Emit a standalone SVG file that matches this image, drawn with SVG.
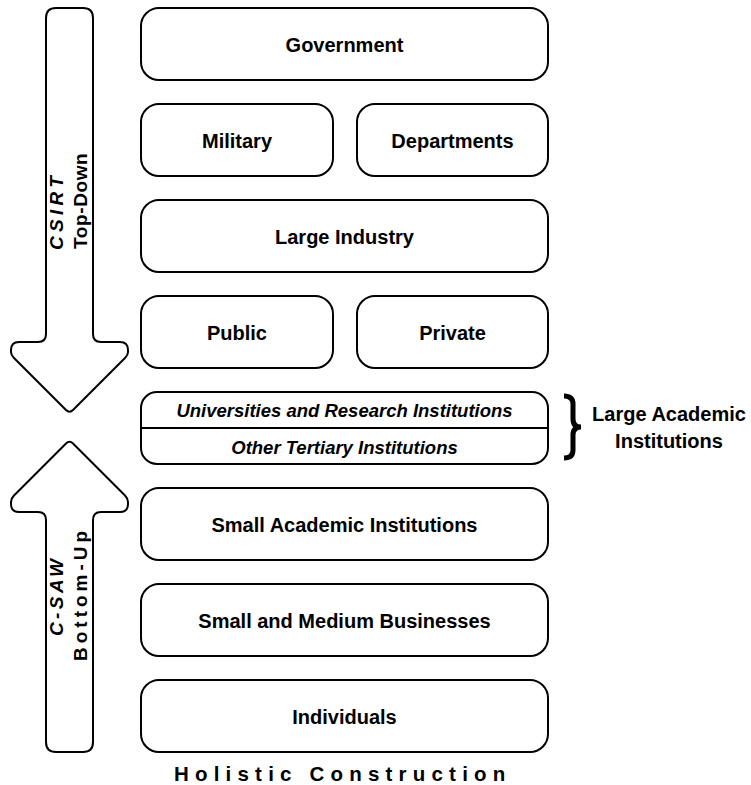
<svg xmlns="http://www.w3.org/2000/svg" width="751" height="785" viewBox="0 0 751 785">
<style>
.box{fill:#fff;stroke:#000;stroke-width:2}
.arrow{fill:#fff;stroke:#000;stroke-width:2;stroke-linejoin:round}
.lbl{font-family:"Liberation Sans",Arial,sans-serif;font-weight:bold;font-size:20px;fill:#000;text-anchor:middle}
.it{font-family:"Liberation Sans",Arial,sans-serif;font-weight:bold;font-style:italic;font-size:18.5px;fill:#000;text-anchor:middle}
.side{font-family:"Liberation Sans",Arial,sans-serif;font-weight:bold;font-size:19px;fill:#000}
.title{font-family:"Liberation Sans",Arial,sans-serif;font-weight:bold;font-size:20.5px;fill:#000}
</style>
<rect width="751" height="785" fill="#fff"/>
<g id="arrow-down">
<path class="arrow" d="M46 18 Q46 8 56 8 H83 Q93 8 93 18 V334 Q93 342 101 342 H120 Q128 342 128 350 V352 Q128 355 125 358 L73 410 Q69.5 413.5 66 410 L14 358 Q11 355 11 352 V350 Q11 342 19 342 H38 Q46 342 46 334 Z"/>
<text class="side" font-style="italic" letter-spacing="4.3" transform="translate(63,250) rotate(-90)">CSIRT</text>
<text class="side" letter-spacing="0.6" transform="translate(87,249) rotate(-90)">Top-Down</text>
</g>
<g id="arrow-up">
<path class="arrow" d="M66 443.5 Q69.5 440 73 443.5 L125 495.5 Q128 498.5 128 502 V504 Q128 512 120 512 H101 Q93 512 93 520 V742 Q93 752 83 752 H56 Q46 752 46 742 V520 Q46 512 38 512 H19 Q11 512 11 504 V502 Q11 498.5 14 495.5 Z"/>
<text class="side" font-style="italic" letter-spacing="3.4" transform="translate(63,636) rotate(-90)">C-SAW</text>
<text class="side" letter-spacing="4" transform="translate(87,661) rotate(-90)">Bottom-Up</text>
</g>
<g id="government"><rect class="box" x="141" y="8" width="407" height="72" rx="18"/><text class="lbl" x="344.5" y="52">Government</text></g>
<g id="military"><rect class="box" x="141" y="104" width="192" height="72" rx="18"/><text class="lbl" x="237" y="148">Military</text></g>
<g id="departments"><rect class="box" x="357" y="104" width="191" height="72" rx="18"/><text class="lbl" x="452.5" y="148">Departments</text></g>
<g id="large-industry"><rect class="box" x="141" y="200" width="407" height="72" rx="18"/><text class="lbl" x="344.5" y="244">Large Industry</text></g>
<g id="public"><rect class="box" x="141" y="296" width="192" height="72" rx="18"/><text class="lbl" x="237" y="340">Public</text></g>
<g id="private"><rect class="box" x="357" y="296" width="191" height="72" rx="18"/><text class="lbl" x="452.5" y="340">Private</text></g>
<g id="large-academic">
<rect class="box" x="141" y="392" width="407" height="72" rx="16"/>
<line x1="141" y1="428" x2="548" y2="428" stroke="#000" stroke-width="2"/>
<text class="it" x="344.5" y="416.5">Universities and Research Institutions</text>
<text class="it" x="344.5" y="453.5">Other Tertiary Institutions</text>
<path d="M564 396 Q573 396 573 404 V419 Q573 427 581 427 Q573 427 573 435 V450 Q573 458 564 458" fill="none" stroke="#000" stroke-width="5"/>
<text class="lbl" x="669" y="421">Large Academic</text>
<text class="lbl" x="669" y="448">Institutions</text>
</g>
<g id="small-academic"><rect class="box" x="141" y="488" width="407" height="72" rx="18"/><text class="lbl" x="344.5" y="532">Small Academic Institutions</text></g>
<g id="smb"><rect class="box" x="141" y="584" width="407" height="72" rx="18"/><text class="lbl" x="344.5" y="628">Small and Medium Businesses</text></g>
<g id="individuals"><rect class="box" x="141" y="680" width="407" height="72" rx="18"/><text class="lbl" x="344.5" y="724">Individuals</text></g>
<g id="connectors"></g>
<text class="title" x="174" y="781" letter-spacing="6.2">Holistic Construction</text>
</svg>
